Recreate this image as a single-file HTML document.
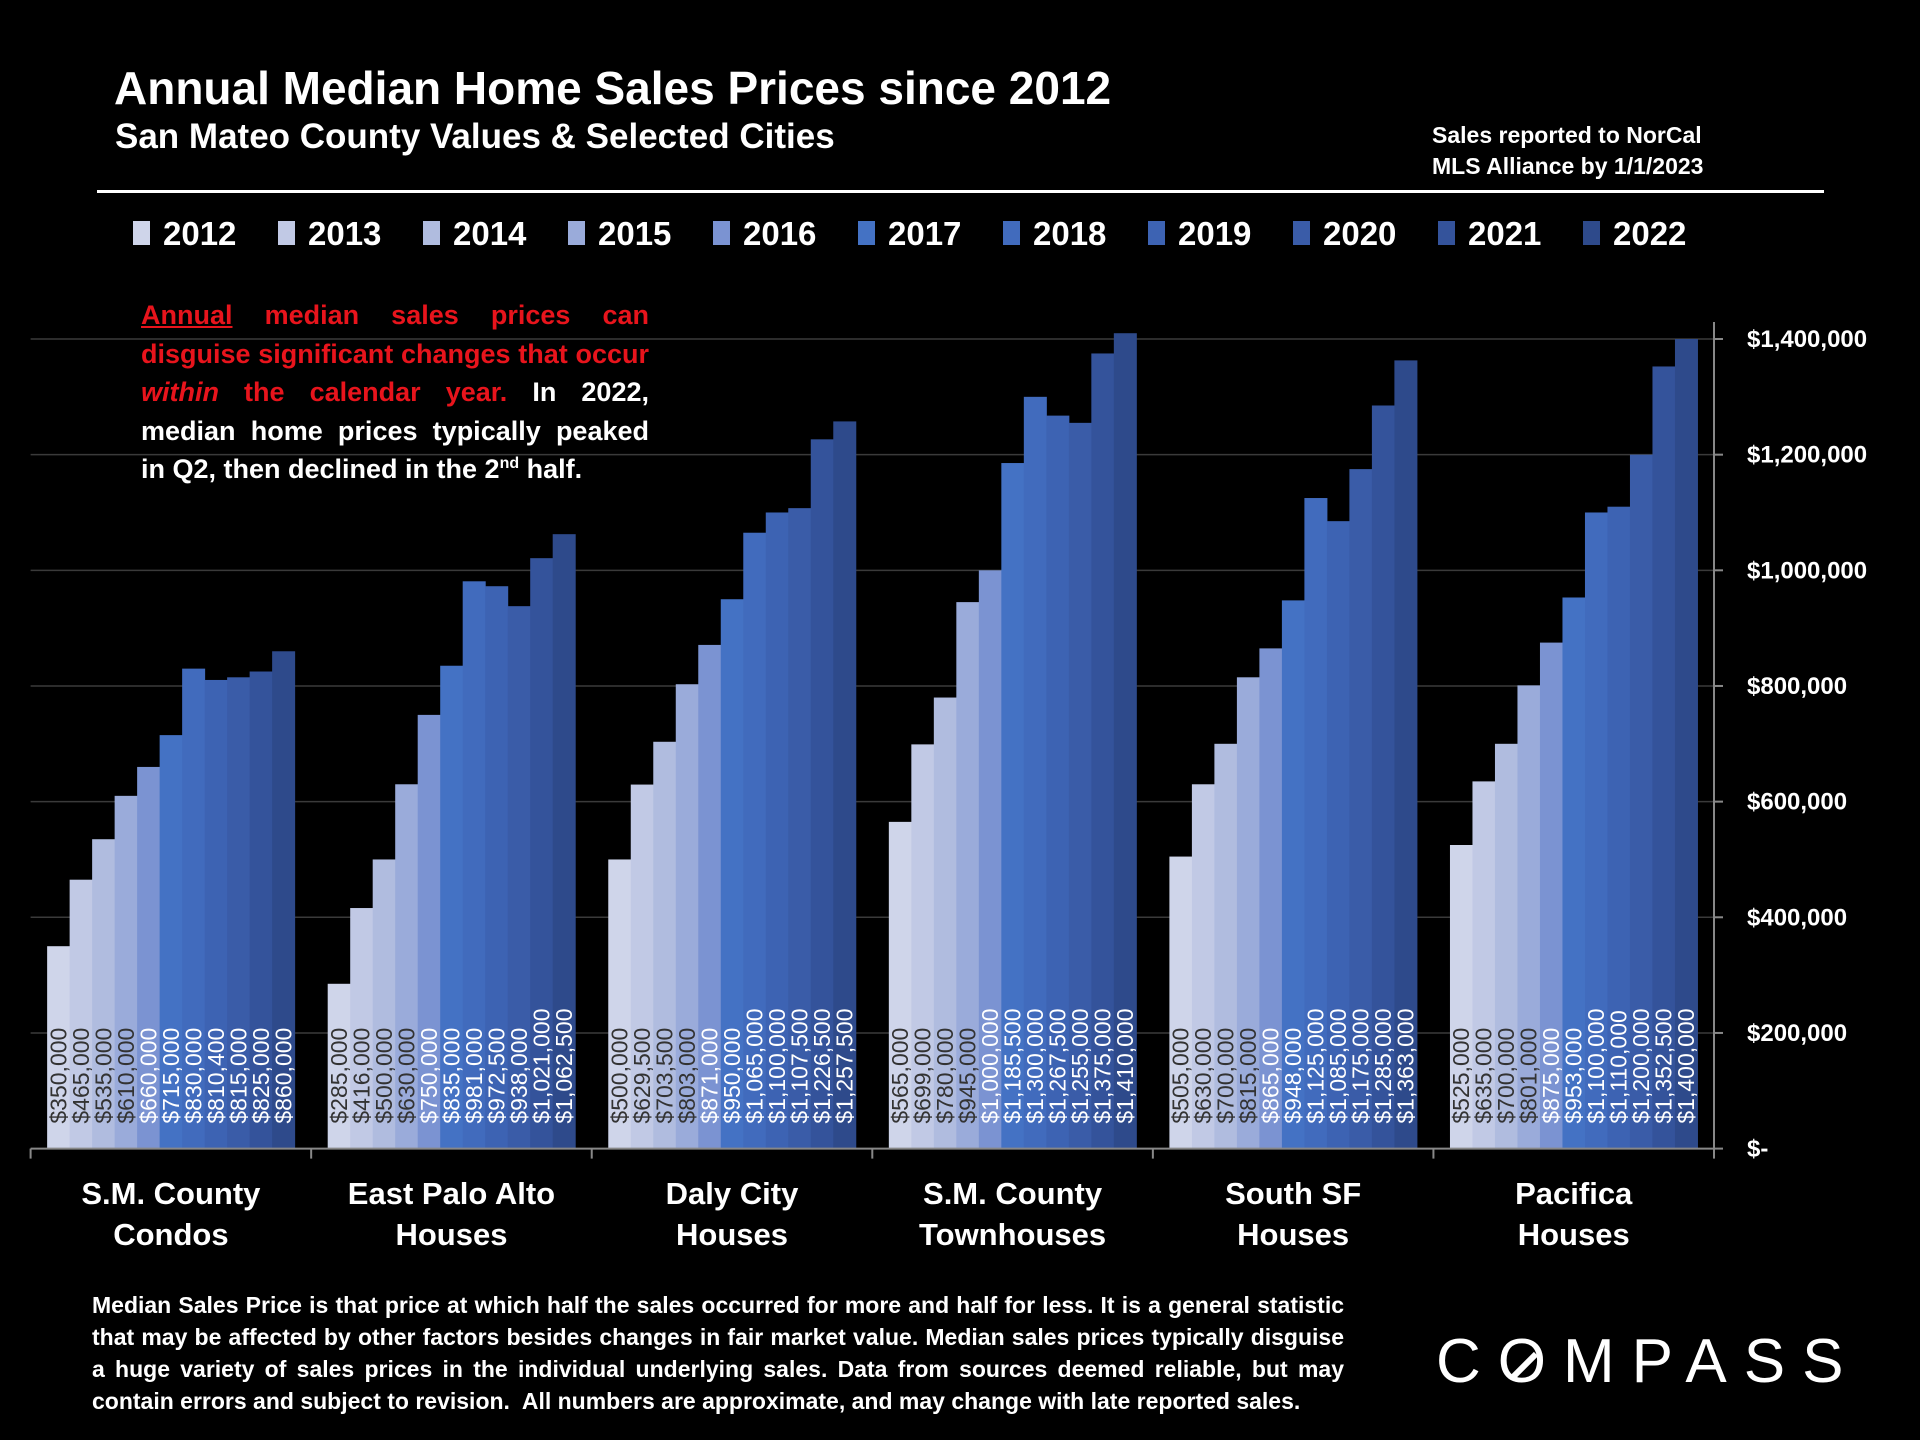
<!DOCTYPE html>
<html><head><meta charset="utf-8"><style>
html,body{margin:0;padding:0;background:#000;}
body{width:1920px;height:1440px;position:relative;overflow:hidden;font-family:"Liberation Sans",sans-serif;color:#fff;}
.abs{position:absolute;}
sup{line-height:0;}
</style></head><body>
<div class="abs" style="left:114px;top:61px;font-size:46px;font-weight:bold;white-space:nowrap;">Annual Median Home Sales Prices since 2012</div>
<div class="abs" style="left:115px;top:117px;font-size:35px;font-weight:bold;white-space:nowrap;">San Mateo County Values &amp; Selected Cities</div>
<div class="abs" style="left:1432px;top:120px;font-size:23px;font-weight:bold;line-height:31px;">Sales reported to NorCal<br>MLS Alliance by 1/1/2023</div>
<div class="abs" style="left:97px;top:190px;width:1727px;height:3px;background:#fff;"></div>
<div class="abs" style="left:141px;top:296px;width:508px;font-size:27px;font-weight:bold;line-height:38.6px;text-align:justify;">
<span style="color:#e8141c"><u>Annual</u> median sales prices can disguise significant changes that occur <i>within</i> the calendar year.</span> In 2022, median home prices typically peaked in Q2, then declined in the 2<sup style="font-size:16px">nd</sup> half.</div>
<div class="abs" style="left:92px;top:1289px;width:1252px;font-size:23px;font-weight:bold;line-height:32px;text-align:justify;">Median Sales Price is that price at which half the sales occurred for more and half for less. It is a general statistic that may be affected by other factors besides changes in fair market value. Median sales prices typically disguise a huge variety of sales prices in the individual underlying sales. Data from sources deemed reliable, but may contain errors and subject to revision.&nbsp; All numbers are approximate, and may change with late reported sales.</div>
<div class="abs" style="left:1436px;top:1326px;font-size:62px;letter-spacing:17px;white-space:nowrap;">C<span style="position:relative;display:inline-block;">O<svg style="position:absolute;left:6px;top:20px" width="40" height="40"><line x1="8" y1="32" x2="32" y2="8" stroke="#fff" stroke-width="6"/></svg></span>MPASS</div>
<svg id="chart" class="abs" style="left:0;top:0" width="1920" height="1440"></svg>
<script>
const years=["2012","2013","2014","2015","2016","2017","2018","2019","2020","2021","2022"];
const categories=[["S.M. County","Condos"],["East Palo Alto","Houses"],["Daly City","Houses"],["S.M. County","Townhouses"],["South SF","Houses"],["Pacifica","Houses"]];
const smCondos=[350000,465000,535000,610000,660000,715000,830000,810400,815000,825000,860000];
const epaHouses=[285000,416000,500000,630000,750000,835000,981000,972500,938000,1021000,1062500];
const dalyHouses=[500000,629500,703500,803000,871000,950000,1065000,1100000,1107500,1226500,1257500];
const smTownhouses=[565000,699000,780000,945000,1000000,1185500,1300000,1267500,1255000,1375000,1410000];
const ssfHouses=[505000,630000,700000,815000,865000,948000,1125000,1085000,1175000,1285000,1363000];
const pacificaHouses=[525000,635000,700000,801000,875000,953000,1100000,1110000,1200000,1352500,1400000];
const seriesByCategory=[smCondos,epaHouses,dalyHouses,smTownhouses,ssfHouses,pacificaHouses];
const yTicks=[0,200000,400000,600000,800000,1000000,1200000,1400000];
const yTickLabels=["$-","$200,000","$400,000","$600,000","$800,000","$1,000,000","$1,200,000","$1,400,000"];
const colors=["#cfd5ea","#c1c9e5","#b0bcdf","#9aabda","#7b93d2","#4472c4","#416bbd","#3d63b3","#3a5ca8","#34539b","#2e4a8b"];
const svg=document.getElementById('chart');
const NS="http://www.w3.org/2000/svg";
const X0=30.6,X1=1714,BASE=1148.6,TOP=339,VMAX=1400000;
const y=v=>BASE-(v/VMAX)*(BASE-TOP);
const gw=(X1-X0)/categories.length;
const bw=22.5, pad=(gw-bw*years.length)/2;
const bx=(g,i)=>X0+g*gw+pad+i*bw;
function mk(t,a){const e=document.createElementNS(NS,t);for(const k in a)e.setAttribute(k,a[k]);svg.appendChild(e);return e;}
yTicks.forEach((v,i)=>{
 if(v>0){const gl=mk('line',{x1:X0,x2:X1,y1:y(v),y2:y(v),stroke:'#3a3a3a','stroke-width':1.5});
 
 }
 const tk=mk('line',{x1:X1,x2:X1+9,y1:y(v),y2:y(v),stroke:'#888','stroke-width':2});
 
 
 const t=mk('text',{x:1747,y:y(v)+8,fill:'#fff','font-size':24,'font-weight':'bold','font-family':'Liberation Sans, sans-serif'});
 t.textContent=yTickLabels[i];
 
 
});
seriesByCategory.forEach((vals,g)=>{
 vals.forEach((v,i)=>{
  const r=mk('rect',{x:bx(g,i),y:y(v),width:bw+0.5,height:BASE-y(v),fill:colors[i]});
  
  
 });
 vals.forEach((v,i)=>{
  const cx=bx(g,i)+bw/2, cy=BASE-25;
  const t=mk('text',{x:cx,y:cy,fill:i<4?'#333':'#fff','font-size':23,'font-family':'Liberation Sans, sans-serif','dominant-baseline':'central',transform:`rotate(-90 ${cx} ${cy})`});
  t.textContent='$'+v.toLocaleString('en-US');
  
  
 });
 const cx=X0+g*gw+gw/2;
 categories[g].forEach((line,k)=>{
  const t=mk('text',{x:cx,y:1204+k*41,fill:'#fff','font-size':31,'font-weight':'bold','text-anchor':'middle','font-family':'Liberation Sans, sans-serif'});
  t.textContent=line;
  
  
 });
});
const ax=mk('line',{x1:X0,x2:X1,y1:BASE,y2:BASE,stroke:'#888','stroke-width':2});


for(let g=0;g<=categories.length;g++){const l=mk('line',{x1:X0+g*gw,x2:X0+g*gw,y1:BASE,y2:BASE+10,stroke:'#888','stroke-width':2});
 
 }
const ya=mk('line',{x1:X1,x2:X1,y1:322,y2:BASE,stroke:'#888','stroke-width':2});


years.forEach((yr,i)=>{
 const lx=133+i*145;
 const sq=mk('rect',{x:lx,y:221,width:17,height:24,fill:colors[i]});
 
 
 const t=mk('text',{x:lx+30,y:245,fill:'#fff','font-size':33,'font-weight':'bold','font-family':'Liberation Sans, sans-serif'});
 t.textContent=yr;
 
 
});
</script>
</body></html>
